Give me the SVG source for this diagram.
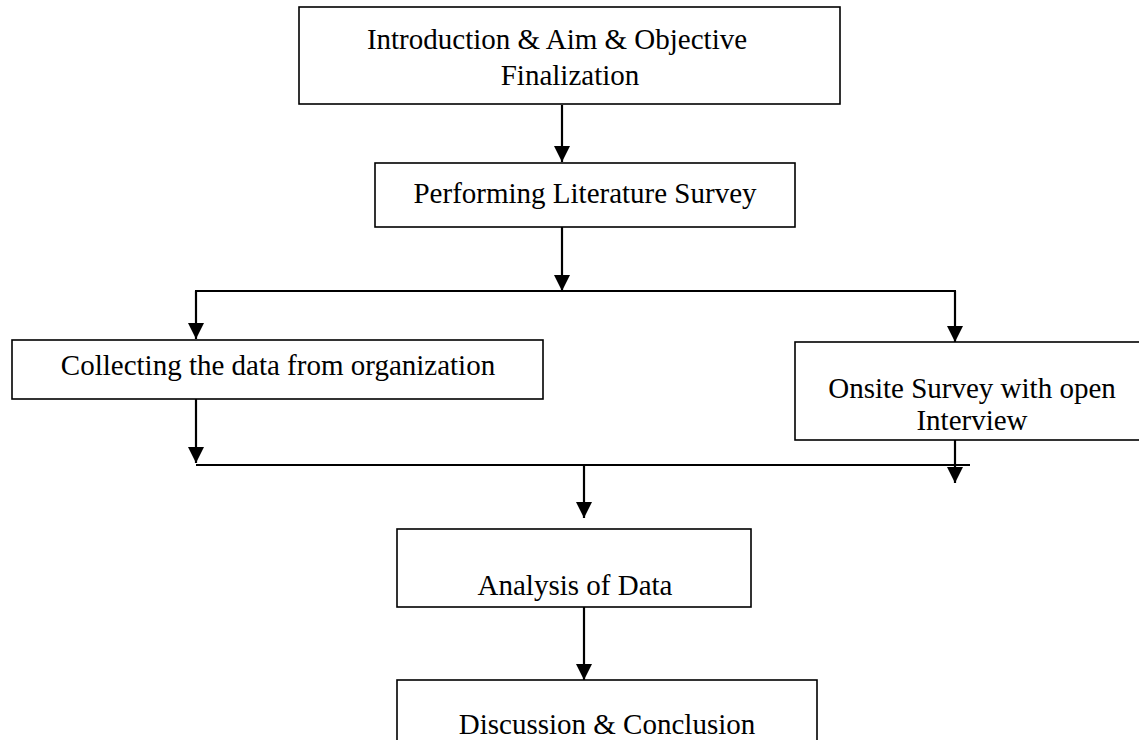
<svg xmlns="http://www.w3.org/2000/svg" width="1139" height="740" viewBox="0 0 1139 740">
  <style>
    .box { fill: #ffffff; stroke: #000000; stroke-width: 1.6; }
    .lbl { font-family: "Liberation Serif", "Times New Roman", serif; font-size: 29px; fill: #000000; text-anchor: middle; }
    .con { fill: none; stroke: #000000; stroke-width: 2.2; }
  </style>
  <defs>
    <marker id="arr" viewBox="0 0 16 16" refX="16" refY="8" markerWidth="16" markerHeight="16" markerUnits="userSpaceOnUse" orient="auto">
      <path d="M0,0 L16,8 L0,16 Z" fill="#000000"/>
    </marker>
  </defs>
  <rect width="1139" height="740" fill="#ffffff"/>

  <g id="connectors">
    <line class="con" x1="562" y1="105" x2="562" y2="162" marker-end="url(#arr)"/>
    <line class="con" x1="562" y1="227" x2="562" y2="291" marker-end="url(#arr)"/>
    <line class="con" x1="195" y1="291" x2="956" y2="291"/>
    <line class="con" x1="196" y1="291" x2="196" y2="339" marker-end="url(#arr)"/>
    <line class="con" x1="955" y1="291" x2="955" y2="342" marker-end="url(#arr)"/>
    <line class="con" x1="196" y1="399" x2="196" y2="463" marker-end="url(#arr)"/>
    <line class="con" x1="196" y1="465" x2="970" y2="465"/>
    <line class="con" x1="955" y1="440" x2="955" y2="483" marker-end="url(#arr)"/>
    <line class="con" x1="584" y1="465" x2="584" y2="518" marker-end="url(#arr)"/>
    <line class="con" x1="584" y1="607" x2="584" y2="680" marker-end="url(#arr)"/>
  </g>

  <g id="node-intro">
    <rect class="box" x="299" y="7" width="541" height="97"/>
    <text class="lbl" x="557" y="49">Introduction &amp; Aim &amp; Objective</text>
    <text class="lbl" x="570" y="85">Finalization</text>
  </g>

  <g id="node-literature">
    <rect class="box" x="375" y="163" width="420" height="64"/>
    <text class="lbl" x="585" y="203">Performing Literature Survey</text>
  </g>

  <g id="node-collecting">
    <rect class="box" x="12" y="340" width="531" height="59"/>
    <text class="lbl" x="278" y="375">Collecting the data from organization</text>
  </g>

  <g id="node-onsite">
    <rect class="box" x="795" y="342" width="354" height="98"/>
    <text class="lbl" x="972" y="398">Onsite Survey with open</text>
    <text class="lbl" x="972" y="430">Interview</text>
  </g>

  <g id="node-analysis">
    <rect class="box" x="397" y="529" width="354" height="78"/>
    <text class="lbl" x="575" y="595">Analysis of Data</text>
  </g>

  <g id="node-discussion">
    <rect class="box" x="397" y="680" width="420" height="80"/>
    <text class="lbl" x="607" y="734">Discussion &amp; Conclusion</text>
  </g>
</svg>
